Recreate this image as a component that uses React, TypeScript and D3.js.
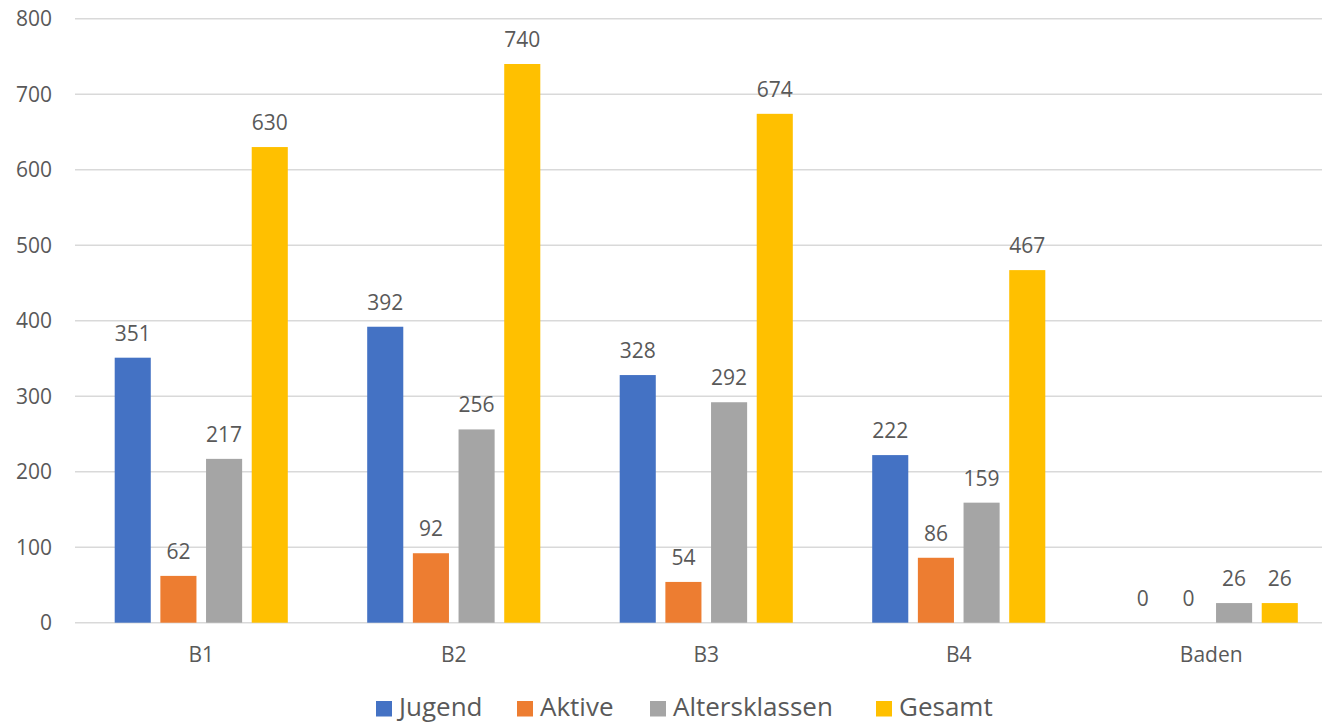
import React from "react";
import * as d3 from "d3";

const categories = ["B1", "B2", "B3", "B4", "Baden"];
const seriesNames = ["Jugend", "Aktive", "Altersklassen", "Gesamt"];
const jugend = [351, 392, 328, 222, 0];
const aktive = [62, 92, 54, 86, 0];
const altersklassen = [217, 256, 292, 159, 26];
const gesamt = [630, 740, 674, 467, 26];
const yTicks = [0, 100, 200, 300, 400, 500, 600, 700, 800];
const colors = ["#4472C4", "#ED7D31", "#A5A5A5", "#FFC000"];

const W = 1322;
const H = 723;
const FONT = "'Open Sans', sans-serif";
const TEXT = "#595959";

export default function App() {
  const values = [jugend, aktive, altersklassen, gesamt];
  const x0 = d3.scaleBand<string>().domain(categories).range([75, 1337.5]).paddingInner(0).paddingOuter(0);
  const bw = x0.bandwidth();
  const x1 = d3.scaleBand<string>().domain(seriesNames).range([39.7, bw - 39.7]).paddingInner(0.21).paddingOuter(0);
  const y = d3.scaleLinear().domain([0, 800]).range([622.7, 18.7]);

  const legendX = [376, 517, 650, 876];

  return (
    <svg width={W} height={H} style={{ position: "absolute", left: 0, top: 0, background: "#fff" }} fontFamily={FONT}>
      {yTicks.map((t) => (
        <g key={t}>
          <line x1={75} x2={W} y1={y(t)} y2={y(t)} stroke="#D9D9D9" strokeWidth={1.5} />
          <text x={52} y={y(t)} dy="0.35em" textAnchor="end" fontSize={21} fill={TEXT}>{t}</text>
        </g>
      ))}
      {categories.map((c, ci) => (
        <g key={c} transform={`translate(${x0(c)},0)`}>
          {seriesNames.map((s, si) => {
            const v = values[si][ci];
            const bx = x1(s)!;
            return (
              <g key={s}>
                {v > 0 && (
                  <rect x={bx} y={y(v)} width={x1.bandwidth()} height={y(0) - y(v)} fill={colors[si]} />
                )}
                <text x={bx + x1.bandwidth() / 2} y={y(v) - 17} textAnchor="middle" fontSize={21} fill={TEXT}>{v}</text>
              </g>
            );
          })}
          <text x={bw / 2} y={662} textAnchor="middle" fontSize={21} fill={TEXT}>{c}</text>
        </g>
      ))}
      {seriesNames.map((name, i) => (
        <g key={name}>
          <rect x={legendX[i]} y={701} width={16} height={15.5} fill={colors[i]} />
          <text x={legendX[i] + 23} y={716} fontSize={26} fill={TEXT}>{name}</text>
        </g>
      ))}
    </svg>
  );
}
